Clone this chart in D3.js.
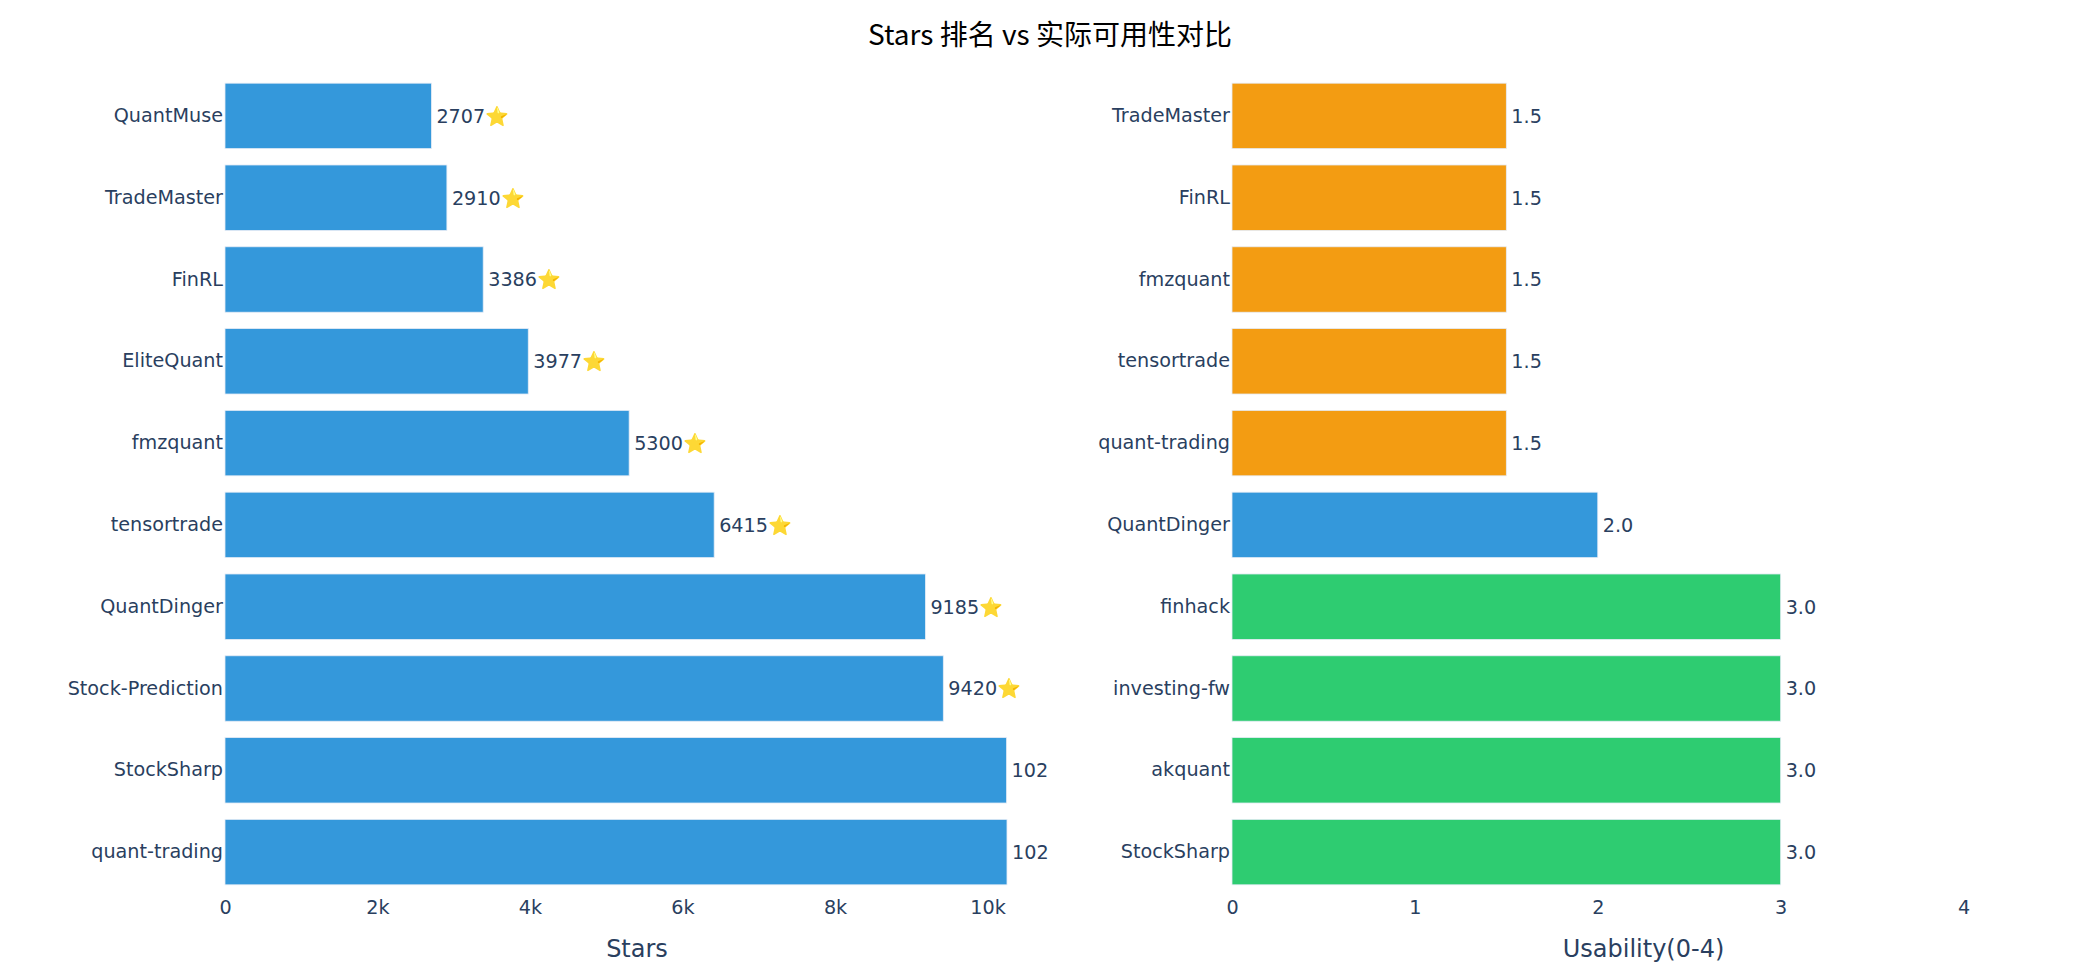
<!DOCTYPE html>
<html>
<head>
<meta charset="utf-8">
<script src="https://cdn.jsdelivr.net/npm/d3@7"></script>
<style>
  html, body { margin: 0; padding: 0; background: #fff; }
  svg { display: block; }
</style>
</head>
<body>
<svg id="chart" width="2100" height="975"></svg>
<script>
// ---- data (top to bottom, as displayed) ----
const starsRepos = ["QuantMuse", "TradeMaster", "FinRL", "EliteQuant", "fmzquant",
                    "tensortrade", "QuantDinger", "Stock-Prediction", "StockSharp", "quant-trading"];
const starsValues = [2707, 2910, 3386, 3977, 5300, 6415, 9185, 9420, 10250, 10255];
const starsLabels = ["2707⭐", "2910⭐", "3386⭐", "3977⭐", "5300⭐", "6415⭐", "9185⭐", "9420⭐", "102", "102"];

const usabilityRepos = ["TradeMaster", "FinRL", "fmzquant", "tensortrade", "quant-trading",
                        "QuantDinger", "finhack", "investing-fw", "akquant", "StockSharp"];
const usabilityValues = [1.5, 1.5, 1.5, 1.5, 1.5, 2.0, 3.0, 3.0, 3.0, 3.0];
const usabilityLabels = ["1.5", "1.5", "1.5", "1.5", "1.5", "2.0", "3.0", "3.0", "3.0", "3.0"];

const starsTicks = [0, 2000, 4000, 6000, 8000, 10000];
const usabilityTicks = [0, 1, 2, 3, 4];

const chartTitle = "Stars 排名 vs 实际可用性对比";
const starsAxisTitle = "Stars";
const usabilityAxisTitle = "Usability(0-4)";

// ---- styles ----
const BLUE = "#3498db", ORANGE = "#f39c12", GREEN = "#2ecc71";
const TEXT = "#2a3f5f";
const FONT = "'DejaVu Sans', Verdana, sans-serif";
const TICK_SIZE = 19.2;
function usabilityColor(v) { return v >= 3 ? GREEN : (v >= 2 ? BLUE : ORANGE); }

const svg = d3.select("#chart");
const plotTop = 75, plotBottom = 893;

function panel(names, values, labels, ticks, x0, x1, domainMax, tickFmt, colorFn, axisTitle) {
  const x = d3.scaleLinear().domain([0, domainMax]).range([x0, x1]);
  const y = d3.scaleBand().domain(names).range([plotTop, plotBottom]).paddingInner(0.2).paddingOuter(0.1);
  const g = svg.append("g");
  const rows = names.map((n, i) => ({ name: n, value: values[i], label: labels[i] }));

  g.selectAll("rect").data(rows).enter().append("rect")
    .attr("x", x(0))
    .attr("y", d => y(d.name))
    .attr("width", d => x(d.value) - x(0))
    .attr("height", y.bandwidth())
    .attr("fill", d => colorFn(d.value))
    .attr("stroke", "#E5ECF6")
    .attr("stroke-width", 0.8);

  g.selectAll("text.val").data(rows).enter().append("text")
    .attr("class", "val")
    .attr("x", d => x(d.value) + 5)
    .attr("y", d => y(d.name) + y.bandwidth() / 2)
    .attr("dy", "0.36em")
    .attr("font-family", FONT)
    .attr("font-size", TICK_SIZE)
    .attr("fill", TEXT)
    .text(d => d.label);

  // y axis (category labels)
  const ya = g.append("g").attr("transform", `translate(${x(0) - 2},0)`)
    .call(d3.axisLeft(y).tickSize(0).tickPadding(0));
  ya.select(".domain").remove();
  ya.selectAll("text").attr("font-family", FONT).attr("font-size", TICK_SIZE).attr("fill", TEXT);

  // x axis
  const xa = g.append("g").attr("transform", `translate(0,${plotBottom})`)
    .call(d3.axisBottom(x).tickValues(ticks).tickFormat(tickFmt).tickSize(0).tickPadding(7));
  xa.select(".domain").remove();
  xa.selectAll("text").attr("font-family", FONT).attr("font-size", TICK_SIZE).attr("fill", TEXT);

  g.append("text")
    .attr("x", (x0 + x1) / 2)
    .attr("y", 948)
    .attr("dy", "0.36em")
    .attr("text-anchor", "middle")
    .attr("font-family", FONT)
    .attr("font-size", 24)
    .attr("fill", TEXT)
    .text(axisTitle);
}

panel(starsRepos, starsValues, starsLabels, starsTicks, 225, 1049, 10806,
      d => d === 0 ? "0" : d3.format("~s")(d), () => BLUE, starsAxisTitle);
panel(usabilityRepos, usabilityValues, usabilityLabels, usabilityTicks, 1232, 2055, 4.5,
      d3.format("d"), usabilityColor, usabilityAxisTitle);

svg.append("text")
  .attr("x", 1050)
  .attr("y", 35)
  .attr("dy", "0.36em")
  .attr("text-anchor", "middle")
  .attr("font-family", "'Noto Sans CJK SC', 'Noto Sans', sans-serif")
  .attr("font-size", 28)
  .attr("fill", "#000")
  .text(chartTitle);
</script>
</body>
</html>
